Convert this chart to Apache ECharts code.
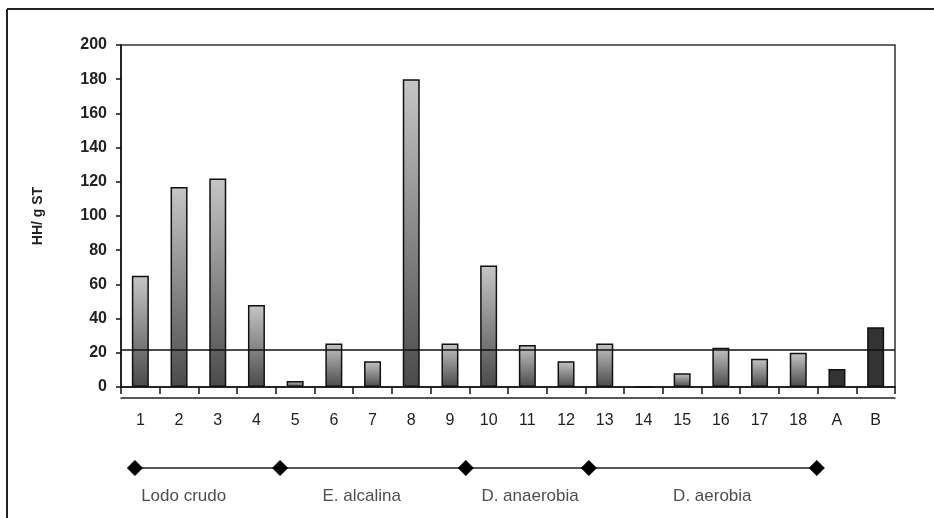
<!DOCTYPE html>
<html>
<head>
<meta charset="utf-8">
<script src="https://cdn.jsdelivr.net/npm/echarts@6/dist/echarts.min.js"></script>
<style>
html,body{margin:0;padding:0;background:#fff;}
#c{width:934px;height:518px;}
</style>
</head>
<body>
<div id="c"></div>
<script>
// ---- data ----
var categories = ['1','2','3','4','5','6','7','8','9','10','11','12','13','14','15','16','17','18','A','B'];
var values = [65, 117, 122, 48, 3.5, 25.5, 15, 180, 25.5, 71, 24.5, 15, 25.5, 0, 8, 23, 16.5, 20, 10.5, 35];
var darkCategories = ['A', 'B'];
var referenceValue = 22;
var yTicks = {min: 0, max: 200, interval: 20};
var bracketPositions = [0.36, 4.11, 8.91, 12.09, 17.98];
var groupLabels = ['Lodo crudo', 'E. alcalina', 'D. anaerobia', 'D. aerobia'];
var groupLabelCenters = [1.62, 6.22, 10.57, 15.28];
var yAxisTitle = 'HH/ g ST';

// ---- chart ----
var FONT = "'Liberation Sans', Arial, sans-serif";
var chart = echarts.init(document.getElementById('c'), null, {renderer: 'canvas'});

var gradient = new echarts.graphic.LinearGradient(0, 0, 0, 1, [
  {offset: 0, color: '#c6c6c6'},
  {offset: 1, color: '#4a4a4a'}
]);

var barData = values.map(function (v, i) {
  var dark = darkCategories.indexOf(categories[i]) >= 0;
  return {
    value: v,
    itemStyle: {color: dark ? '#333333' : gradient}
  };
});

var option = {
  backgroundColor: '#ffffff',
  animation: false,
  graphic: [
    {type: 'line', shape: {x1: 7, y1: 9, x2: 7, y2: 518}, style: {stroke: '#222', lineWidth: 2}},
    {type: 'line', shape: {x1: 7, y1: 9, x2: 934, y2: 9}, style: {stroke: '#222', lineWidth: 2}}
  ],
  grid: [
    {left: 121, right: 39, top: 45, bottom: 131, show: true, borderColor: '#333', borderWidth: 1.5, backgroundColor: 'transparent'},
    {left: 121, right: 39, top: 440, height: 56, show: false}
  ],
  xAxis: [
    {
      type: 'category', gridIndex: 0, data: categories, boundaryGap: true,
      axisLine: {lineStyle: {color: '#111', width: 1.5}},
      axisTick: {show: true, length: 7, lineStyle: {color: '#111', width: 1.5}},
      axisLabel: {color: '#222', fontFamily: FONT, fontSize: 16, margin: 26, interval: 0}
    },
    {
      type: 'category', gridIndex: 0, data: categories, position: 'bottom', offset: 11,
      axisLine: {lineStyle: {color: '#222', width: 1.5}},
      axisTick: {show: false}, axisLabel: {show: false}
    },
    {
      type: 'value', gridIndex: 1, min: 0, max: categories.length, show: false
    }
  ],
  yAxis: [
    {
      type: 'value', gridIndex: 0, min: yTicks.min, max: yTicks.max, interval: yTicks.interval,
      name: yAxisTitle, nameLocation: 'middle', nameRotate: 90, nameGap: 76,
      nameTextStyle: {color: '#222', fontFamily: FONT, fontSize: 14, fontWeight: 'bold'},
      axisLine: {show: true, lineStyle: {color: '#111', width: 1.5}},
      axisTick: {show: true, length: 5, lineStyle: {color: '#111', width: 1.5}},
      axisLabel: {color: '#222', fontFamily: FONT, fontSize: 16, fontWeight: 'bold', margin: 14},
      splitLine: {show: false}
    },
    {
      type: 'value', gridIndex: 1, min: -1, max: 1, show: false
    }
  ],
  series: [
    {
      type: 'bar', xAxisIndex: 0, yAxisIndex: 0, data: barData, barWidth: 17,
      itemStyle: {borderColor: '#111', borderWidth: 1.5},
      markLine: {
        silent: true, symbol: 'none', label: {show: false},
        lineStyle: {color: '#111', width: 1.5, type: 'solid'},
        data: [{yAxis: referenceValue}]
      }
    },
    {
      type: 'line', xAxisIndex: 2, yAxisIndex: 1,
      data: bracketPositions.map(function (p) { return [p, 0]; }),
      symbol: 'diamond', symbolSize: 15, showSymbol: true,
      lineStyle: {color: '#222', width: 1.5},
      itemStyle: {color: '#000', borderColor: '#000'}
    },
    {
      type: 'scatter', xAxisIndex: 2, yAxisIndex: 1,
      data: groupLabels.map(function (t, i) { return {name: t, value: [groupLabelCenters[i], -1]}; }),
      symbolSize: 0,
      label: {
        show: true, position: 'inside', formatter: '{b}',
        color: '#222', fontFamily: FONT, fontSize: 17
      }
    }
  ]
};
chart.setOption(option);
</script>
</body>
</html>
